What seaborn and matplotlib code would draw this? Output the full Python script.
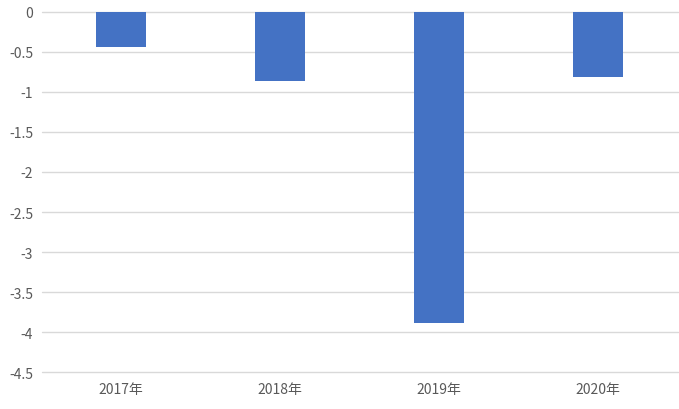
"""Bar chart of yearly values (negative), Excel-like style"""

import matplotlib
matplotlib.use("Agg")
import matplotlib.pyplot as plt
import pandas as pd
import seaborn as sns

years = ["2017年", "2018年", "2019年", "2020年"]
values = [-0.44, -0.87, -3.88, -0.81]
y_ticks = [0, -0.5, -1, -1.5, -2, -2.5, -3, -3.5, -4, -4.5]
y_tick_labels = ["0", "-0.5", "-1", "-1.5", "-2", "-2.5", "-3", "-3.5", "-4", "-4.5"]

sns.set_style("white")
plt.rcParams["font.family"] = ["Noto Sans CJK SC", "DejaVu Sans"]

df = pd.DataFrame({"year": years, "value": values})

fig = plt.figure(figsize=(6.79, 4.10), dpi=100)
ax = fig.add_axes([41.5 / 679, 36.7 / 410, 636 / 679, (373.3 - 12.7) / 410])

sns.barplot(data=df, x="year", y="value", color="#4472C4", saturation=1,
            width=0.315, linewidth=0, ax=ax, zorder=3)

ax.set_ylim(-4.5, 0)
ax.set_xlim(-0.5, 3.5)
ax.set_yticks(y_ticks)
ax.set_yticklabels(y_tick_labels)
ax.yaxis.grid(True, color="#D9D9D9", linewidth=1)
ax.set_axisbelow(True)
for line in ax.get_ygridlines():
    line.set_clip_on(False)
for s in ax.spines.values():
    s.set_visible(False)
ax.tick_params(axis="both", length=0, labelsize=10, colors="#595959")
ax.tick_params(axis="x", pad=7)
ax.tick_params(axis="y", pad=6)
ax.set_xlabel("")
ax.set_ylabel("")

fig.savefig("out.png", dpi=100)
